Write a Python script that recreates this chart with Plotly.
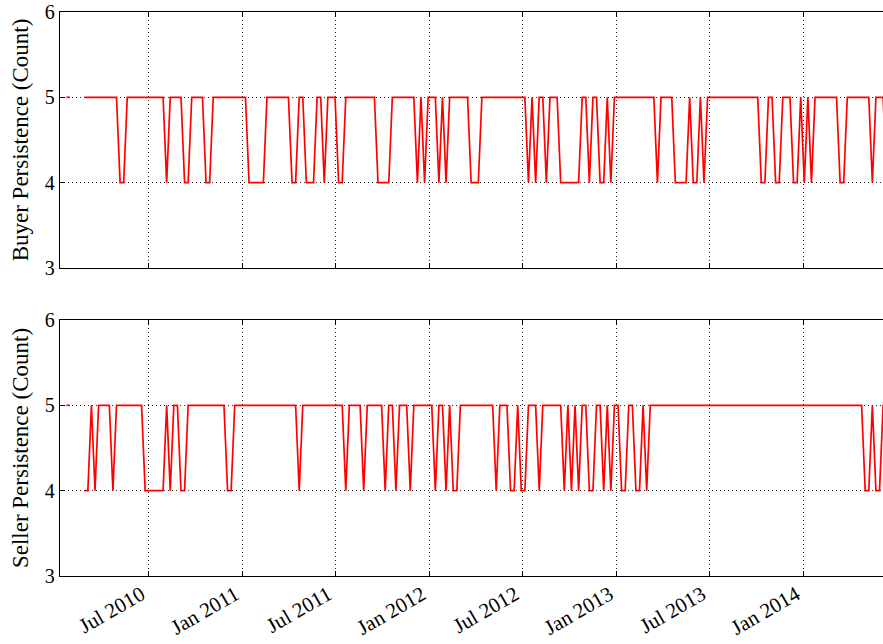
import pandas as pd
import plotly.graph_objects as go
from plotly.subplots import make_subplots

# weekly observations; the first two are an early stub followed by a gap
week_start = "2010-01-22"

buyer_counts = [
    5, 5, None, None, None,
    5, 5, 5, 5, 5, 5, 5, 5, 5, 5, 4, 4, 5, 5, 5,
    5, 5, 5, 5, 5, 5, 5, 5, 4, 5, 5, 5, 5, 4, 4,
    5, 5, 5, 5, 4, 4, 5, 5, 5, 5, 5, 5, 5, 5, 5,
    5, 4, 4, 4, 4, 4, 5, 5, 5, 5, 5, 5, 5, 4, 4,
    5, 5, 4, 4, 4, 5, 5, 4, 5, 5, 5, 4, 4, 5, 5,
    5, 5, 5, 5, 5, 5, 5, 4, 4, 4, 4, 5, 5, 5, 5,
    5, 5, 5, 4, 5, 4, 5, 5, 5, 4, 5, 4, 5, 5, 5,
    5, 5, 5, 4, 4, 4, 5, 5, 5, 5, 5, 5, 5, 5, 5,
    5, 5, 5, 5, 4, 5, 4, 5, 5, 4, 5, 5, 5, 4, 4,
    4, 4, 4, 4, 5, 5, 4, 5, 5, 4, 4, 5, 4, 5, 5,
    5, 5, 5, 5, 5, 5, 5, 5, 5, 5, 4, 5, 5, 5, 5,
    4, 4, 4, 4, 5, 4, 4, 5, 4, 5, 5, 5, 5, 5, 5,
    5, 5, 5, 5, 5, 5, 5, 5, 5, 4, 4, 5, 5, 4, 4,
    5, 5, 5, 4, 4, 5, 4, 5, 4, 5, 5, 5, 5, 5, 5,
    5, 4, 4, 5, 5, 5, 5, 5, 5, 5, 4, 5, 5, 5, 4,
]

seller_counts = [
    5, 5, None, None, None,
    4, 4, 5, 4, 5, 5, 5, 5, 4, 5, 5, 5, 5, 5, 5,
    5, 5, 4, 4, 4, 4, 4, 4, 5, 4, 5, 5, 4, 4, 5,
    5, 5, 5, 5, 5, 5, 5, 5, 5, 5, 4, 4, 5, 5, 5,
    5, 5, 5, 5, 5, 5, 5, 5, 5, 5, 5, 5, 5, 5, 5,
    4, 5, 5, 5, 5, 5, 5, 5, 5, 5, 5, 5, 5, 4, 5,
    5, 5, 5, 4, 5, 5, 5, 5, 5, 4, 5, 5, 4, 5, 5,
    5, 4, 5, 5, 5, 5, 5, 5, 4, 5, 5, 4, 5, 4, 4,
    5, 5, 5, 5, 5, 5, 5, 5, 5, 5, 4, 5, 5, 5, 4,
    4, 5, 4, 4, 5, 5, 5, 4, 5, 5, 5, 5, 5, 5, 4,
    5, 4, 5, 4, 5, 5, 4, 4, 5, 5, 4, 5, 4, 5, 5,
    4, 4, 5, 5, 4, 4, 5, 4, 5, 5, 5, 5, 5, 5, 5,
    5, 5, 5, 5, 5, 5, 5, 5, 5, 5, 5, 5, 5, 5, 5,
    5, 5, 5, 5, 5, 5, 5, 5, 5, 5, 5, 5, 5, 5, 5,
    5, 5, 5, 5, 5, 5, 5, 5, 5, 5, 5, 5, 5, 5, 5,
    5, 5, 5, 5, 5, 5, 5, 5, 4, 4, 5, 4, 4, 5, 5,
]

tick_dates = ["2010-07-01", "2011-01-01", "2011-07-01", "2012-01-01",
              "2012-07-01", "2013-01-01", "2013-07-01", "2014-01-01"]
tick_labels = ["Jul 2010", "Jan 2011", "Jul 2011", "Jan 2012",
               "Jul 2012", "Jan 2013", "Jul 2013", "Jan 2014"]
y_ticks = [3, 4, 5, 6]

dates = pd.date_range(week_start, periods=len(buyer_counts), freq="7D")

FONT = "Liberation Serif"

fig = make_subplots(rows=2, cols=1, shared_xaxes=True, vertical_spacing=0.0807)

fig.add_trace(go.Scatter(x=dates, y=buyer_counts, mode="lines",
                         line=dict(color="#ff0000", width=1.7),
                         connectgaps=False, showlegend=False), row=1, col=1)
fig.add_trace(go.Scatter(x=dates, y=seller_counts, mode="lines",
                         line=dict(color="#ff0000", width=1.7),
                         connectgaps=False, showlegend=False), row=2, col=1)

x_common = dict(
    range=["2010-01-09 14:00", "2014-06-05 19:00"],
    tickvals=tick_dates, ticktext=tick_labels,
    showgrid=True, gridcolor="#222222", griddash="1px,3px", gridwidth=1.2,
    showline=True, linecolor="black", linewidth=1.3, mirror="ticks",
    ticks="inside", ticklen=5, tickcolor="black",
    zeroline=False, automargin=False,
    tickfont=dict(family=FONT, size=21, color="black"),
)
fig.update_xaxes(**x_common)
fig.update_xaxes(showticklabels=False, row=1, col=1)
fig.update_xaxes(tickangle=-30, ticklabelshift=-7, ticklabelstandoff=-3,
                 row=2, col=1)

y_common = dict(
    range=[3, 6], tickvals=y_ticks,
    showgrid=True, gridcolor="#222222", griddash="1px,3px", gridwidth=1.2,
    showline=True, linecolor="black", linewidth=1.3, mirror=False,
    ticks="inside", ticklen=5, tickcolor="black",
    zeroline=False, automargin=False,
    tickfont=dict(family=FONT, size=20, color="black"),
    title_font=dict(family=FONT, size=23, color="black"),
    title_standoff=9,
)
fig.update_yaxes(**y_common)
fig.update_yaxes(title_text="Buyer Persistence (Count)", row=1, col=1)
fig.update_yaxes(title_text="Seller Persistence (Count)", row=2, col=1)

fig.update_xaxes(domain=[60 / 883, 1.0])
fig.update_yaxes(domain=[1 - 268 / 644, 1 - 12 / 644], row=1, col=1)
fig.update_yaxes(domain=[1 - 576 / 644, 1 - 320 / 644], row=2, col=1)

fig.update_layout(
    width=883, height=644,
    margin=dict(l=0, r=0, t=0, b=0),
    paper_bgcolor="white", plot_bgcolor="white",
    font=dict(family=FONT, color="black"),
)

fig.write_html("out.html", config={"displayModeBar": False},
               post_script="document.body.style.margin='0px';")
